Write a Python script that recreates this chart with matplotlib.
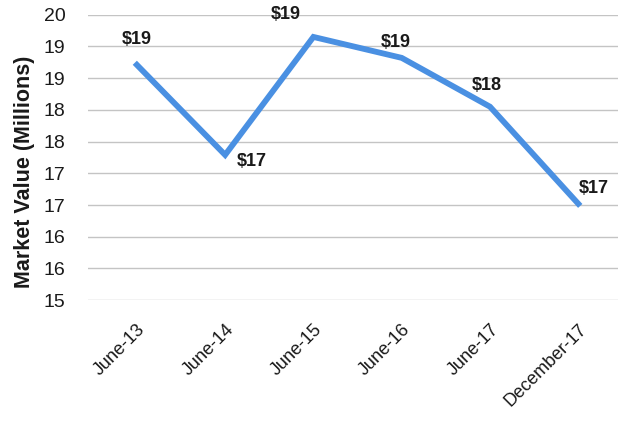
import matplotlib.pyplot as plt
from matplotlib.ticker import FuncFormatter

plt.rcParams['font.family'] = ['Liberation Sans', 'DejaVu Sans']

periods = ['June-13', 'June-14', 'June-15', 'June-16', 'June-17', 'December-17']
market_value = [18.71, 17.29, 19.15, 18.82, 18.05, 16.52]

# label offsets (points) for each data label
label_offsets = [(0, 18), (19, -5), (-20, 16), (-4, 11), (-2, 15), (11, 11)]

fig = plt.figure(figsize=(6.18, 4.21), dpi=100)
ax = fig.add_axes([0.142, 0.287, 0.858, 0.678])

x = list(range(len(periods)))
ax.plot(x, market_value, color='#4a90e2', lw=4.2, solid_joinstyle='miter')

for xi, v, off in zip(x, market_value, label_offsets):
    ax.annotate(f'${v:.0f}', (xi, v), xytext=off, textcoords='offset points',
                ha='center', va='center', fontsize=13, fontweight='bold',
                color='#1a1a1a', annotation_clip=False)

ax.set_ylim(15, 19.5)
ax.set_yticks([15 + 0.5 * i for i in range(10)])
ax.yaxis.set_major_formatter(FuncFormatter(lambda v, p: f'{int(v + 0.5)}'))
ax.set_xlim(-0.556, 5.45)
ax.set_xticks(x)
ax.set_xticklabels(periods, rotation=45, ha='right', rotation_mode='anchor')

ax.tick_params(axis='y', length=0, labelsize=14, pad=16, labelcolor='#1a1a1a')
ax.tick_params(axis='x', length=0, labelsize=13, pad=15, labelcolor='#1a1a1a')
ax.grid(axis='y', color='#c4c4c4', lw=1)
for s in ax.spines.values():
    s.set_visible(False)

ax.set_ylabel('Market Value (Millions)', fontsize=15.5, fontweight='bold',
              color='#1a1a1a')
ax.yaxis.set_label_coords(-0.1, 0.45)

fig.savefig('out.png', dpi=100)
